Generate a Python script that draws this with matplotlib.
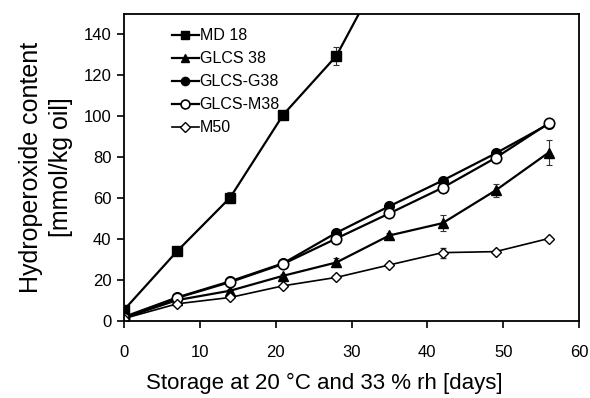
import matplotlib
matplotlib.use("Agg")
import matplotlib.pyplot as plt
from matplotlib.lines import Line2D

plt.rcParams['font.family'] = ['Liberation Sans', 'DejaVu Sans']

days = [0, 7, 14, 21, 28, 35, 42, 49, 56]
md18_days = [0, 7, 14, 21, 28, 35]
md18 = [5.4, 34.1, 60.3, 100.8, 129.5, 178]
md18_err = [1.0, 1.0, 2.5, 1.0, 4.6, 5]
glcs38 = [1.5, 10.2, 14.8, 22.1, 28.6, 41.8, 47.8, 63.8, 82.3]
glcs38_err = [0.5, 0.8, 0.8, 1.0, 2.0, 1.0, 4.0, 3.0, 6.0]
glcsg38 = [2.0, 11.5, 19.4, 28.2, 43.1, 56.1, 68.6, 81.9, 96.2]
glcsg38_err = [0.5, 0.5, 0.8, 0.8, 1.0, 1.0, 1.0, 1.0, 1.5]
glcsm38 = [1.5, 11.3, 19.0, 27.9, 40.3, 52.6, 65.1, 79.7, 96.6]
glcsm38_err = [0.5, 0.5, 0.8, 0.8, 1.0, 1.0, 1.0, 1.0, 1.5]
m50 = [1.2, 8.4, 11.5, 17.2, 21.3, 27.4, 33.4, 33.9, 40.3]
m50_err = [0.3, 0.5, 0.5, 0.5, 0.8, 0.8, 2.5, 0.8, 0.8]

labels = ["MD 18", "GLCS 38", "GLCS-G38", "GLCS-M38", "M50"]

fig = plt.figure(figsize=(5.9, 3.98), dpi=100)
ax = fig.add_axes([124/590, 1 - 321/398, (579-124)/590, (321-14)/398])

common = dict(color='black', ecolor='#333333', elinewidth=0.8, capsize=2.5, capthick=0.8)
styles = [
    dict(marker='s', ms=6.5, mfc='black', mec='black', lw=1.6),
    dict(marker='^', ms=7, mfc='black', mec='black', lw=1.6),
    dict(marker='o', ms=7, mfc='black', mec='black', lw=1.6),
    dict(marker='o', ms=7.5, mfc='white', mec='black', mew=1.2, lw=1.6),
    dict(marker='D', ms=5.5, mfc='white', mec='black', mew=1.0, lw=1.2),
]
ax.errorbar(md18_days, md18, yerr=md18_err, **styles[0], **common)
ax.errorbar(days, glcs38, yerr=glcs38_err, **styles[1], **common)
ax.errorbar(days, glcsg38, yerr=glcsg38_err, **styles[2], **common)
ax.errorbar(days, glcsm38, yerr=glcsm38_err, **styles[3], **common)
ax.errorbar(days, m50, yerr=m50_err, **styles[4], **common)

ax.set_xlim(0, 60)
ax.set_ylim(0, 150)
ax.set_xticks(range(0, 61, 10))
ax.set_yticks(range(0, 141, 20))
ax.tick_params(direction='out', length=5, width=1.2, labelsize=12, pad=4)
ax.tick_params(axis='x', pad=12)
for s in ax.spines.values():
    s.set_linewidth(1.3)

ax.set_xlabel("Storage at 20 °C and 33 % rh [days]", fontsize=16)
ax.xaxis.set_label_coords((324 - 124) / 455, (321 - 373) / 307)
ax.set_ylabel("Hydroperoxide content\n[mmol/kg oil]", fontsize=18, labelpad=8, linespacing=1.3)

handles = []
for st in styles:
    d = dict(st)
    d['ms'] = d['ms'] * 0.85
    handles.append(Line2D([], [], color='black', **d))
ax.legend(handles, labels, loc='upper left', bbox_to_anchor=(0.08, 0.99), frameon=False, fontsize=11.5,
          handlelength=1.7, handletextpad=0.05, labelspacing=0.5, borderaxespad=0.3)

fig.savefig("out.png", dpi=100)
